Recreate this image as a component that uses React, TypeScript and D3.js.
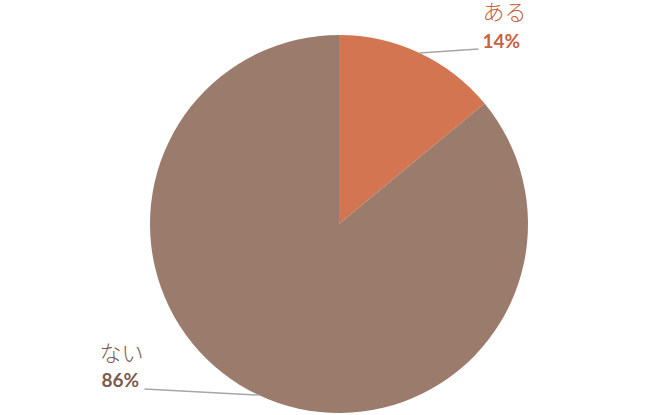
import React from "react";
import * as d3 from "d3";

const categories = ["ある", "ない"];
const values = [14, 86];
const percentLabels = ["14%", "86%"];

const colors = ["#D37550", "#9B7B6C"];
const labelColors = ["#C8623F", "#7D5A4F"];
// label layout offsets relative to the slice's edge point (layout, not data)
const lineEndOffsets = [[59, -4], [-114, -6]];
const textOffsets = [[63, -33], [-159, -34]];
const pctOffsets = [[63, -5], [-157, -8]];

const W = 654, H = 415;
const cx = 339, cy = 224, R = 189;

export default function App() {
  const pie = d3.pie<number>().sort(null).value((d) => d)(values);
  const arc = d3.arc<d3.PieArcDatum<number>>().innerRadius(0).outerRadius(R);
  return (
    <svg width={W} height={H} style={{ position: "absolute", left: 0, top: 0 }}>
      <g transform={`translate(${cx},${cy})`}>
        {pie.map((p, i) => (
          <path key={i} d={arc(p) || ""} fill={colors[i]} />
        ))}
        {pie.map((p, i) => {
          const mid = (p.startAngle + p.endAngle) / 2;
          const ex = R * Math.sin(mid);
          const ey = -R * Math.cos(mid);
          const [lx, ly] = lineEndOffsets[i];
          const [tx, ty] = textOffsets[i];
          const [px, py] = pctOffsets[i];
          return (
            <g key={"l" + i}>
              <line x1={ex} y1={ey} x2={ex + lx} y2={ey + ly} stroke="#A6A6A6" strokeWidth={1.5} />
              <text x={ex + tx} y={ey + ty} fill={labelColors[i]} fontFamily="'Noto Sans CJK JP'" fontSize={22} fontWeight={300}>
                {categories[i]}
              </text>
              <text x={ex + px} y={ey + py} fill={labelColors[i]} fontFamily="Lato" fontSize={19} fontWeight={700}>
                {percentLabels[i]}
              </text>
            </g>
          );
        })}
      </g>
    </svg>
  );
}
